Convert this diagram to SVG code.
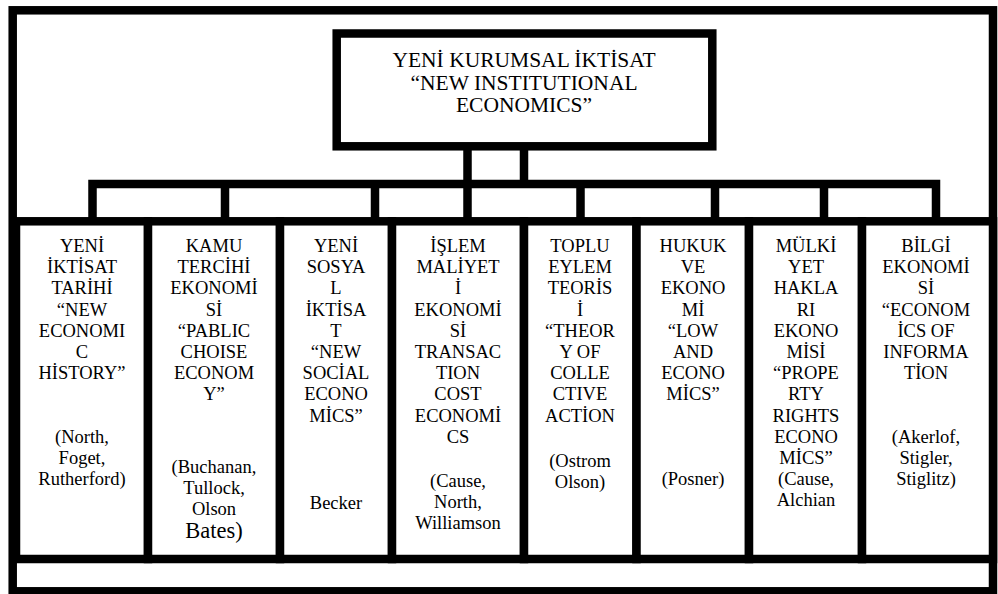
<svg xmlns="http://www.w3.org/2000/svg" width="998" height="594" viewBox="0 0 998 594">
<style>
.box{fill:#fff;stroke:#000;stroke-width:8.5}
.conn{fill:none;stroke:#000;stroke-width:8.5;stroke-linecap:square}
text{font-family:"Liberation Serif","Times New Roman",serif;fill:#000;text-anchor:middle}
.t{font-size:21.5px}
.c{font-size:18.5px}
.big{font-size:22.5px}
</style>
<rect width="998" height="594" fill="#fff"/>
<g id="frame">
<rect class="box" x="12.7" y="10.3" width="980.3" height="581"/>
</g>
<g id="root">
<rect class="box" x="336.7" y="33.5" width="375.6" height="112.8"/>
<text class="t"><tspan x="524" y="67">YENİ KURUMSAL İKTİSAT</tspan><tspan x="524" y="89.5">“NEW INSTITUTIONAL</tspan><tspan x="524" y="112">ECONOMICS”</tspan></text>
</g>
<g id="connectors">
<path class="conn" d="M467.5 150V217M524 150V184M92.5 184H936M92.5 184V217M225 184V217M375 184V217M580.5 184V217M715 184V217M824 184V217M936 184V217"/>
</g>
<g id="col1">
<rect class="box" x="16" y="221.3" width="132" height="337.7"/>
<text class="c"><tspan x="82" y="252">YENİ</tspan><tspan x="82" y="273.2">İKTİSAT</tspan><tspan x="82" y="294.4">TARİHİ</tspan><tspan x="82" y="315.6">“NEW</tspan><tspan x="82" y="336.8">ECONOMI</tspan><tspan x="82" y="358">C</tspan><tspan x="82" y="379.2">HİSTORY”</tspan><tspan x="82" y="443">(North,</tspan><tspan x="82" y="464.2">Foget,</tspan><tspan x="82" y="485.4">Rutherford)</tspan></text>
</g>
<g id="col2">
<rect class="box" x="148" y="221.3" width="132" height="337.7"/>
<text class="c"><tspan x="214" y="252">KAMU</tspan><tspan x="214" y="273.2">TERCİHİ</tspan><tspan x="214" y="294.4">EKONOMİ</tspan><tspan x="214" y="315.6">Sİ</tspan><tspan x="214" y="336.8">“PABLIC</tspan><tspan x="214" y="358">CHOISE</tspan><tspan x="214" y="379.2">ECONOM</tspan><tspan x="214" y="400.4">Y”</tspan><tspan x="214" y="473">(Buchanan,</tspan><tspan x="214" y="494">Tullock,</tspan><tspan x="214" y="515">Olson</tspan></text>
<text class="big" x="214" y="538">Bates)</text>
</g>
<g id="col3">
<rect class="box" x="280" y="221.3" width="112" height="337.7"/>
<text class="c"><tspan x="336" y="252">YENİ</tspan><tspan x="336" y="273.2">SOSYA</tspan><tspan x="336" y="294.4">L</tspan><tspan x="336" y="315.6">İKTİSA</tspan><tspan x="336" y="336.8">T</tspan><tspan x="336" y="358">“NEW</tspan><tspan x="336" y="379.2">SOCİAL</tspan><tspan x="336" y="400.4">ECONO</tspan><tspan x="336" y="421.6">MİCS”</tspan><tspan x="336" y="509">Becker</tspan></text>
</g>
<g id="col4">
<rect class="box" x="392" y="221.3" width="132" height="337.7"/>
<text class="c"><tspan x="458" y="252">İŞLEM</tspan><tspan x="458" y="273.2">MALİYET</tspan><tspan x="458" y="294.4">İ</tspan><tspan x="458" y="315.6">EKONOMİ</tspan><tspan x="458" y="336.8">Sİ</tspan><tspan x="458" y="358">TRANSAC</tspan><tspan x="458" y="379.2">TION</tspan><tspan x="458" y="400.4">COST</tspan><tspan x="458" y="421.6">ECONOMİ</tspan><tspan x="458" y="442.8">CS</tspan><tspan x="458" y="487">(Cause,</tspan><tspan x="458" y="508">North,</tspan><tspan x="458" y="529">Williamson</tspan></text>
</g>
<g id="col5">
<rect class="box" x="524" y="221.3" width="112.5" height="337.7"/>
<text class="c"><tspan x="580" y="252">TOPLU</tspan><tspan x="580" y="273.2">EYLEM</tspan><tspan x="580" y="294.4">TEORİS</tspan><tspan x="580" y="315.6">İ</tspan><tspan x="580" y="336.8">“THEOR</tspan><tspan x="580" y="358">Y OF</tspan><tspan x="580" y="379.2">COLLE</tspan><tspan x="580" y="400.4">CTIVE</tspan><tspan x="580" y="421.6">ACTİON</tspan><tspan x="580" y="466.5">(Ostrom</tspan><tspan x="580" y="488">Olson)</tspan></text>
</g>
<g id="col6">
<rect class="box" x="636.5" y="221.3" width="112.5" height="337.7"/>
<text class="c"><tspan x="693" y="252">HUKUK</tspan><tspan x="693" y="273.2">VE</tspan><tspan x="693" y="294.4">EKONO</tspan><tspan x="693" y="315.6">Mİ</tspan><tspan x="693" y="336.8">“LOW</tspan><tspan x="693" y="358">AND</tspan><tspan x="693" y="379.2">ECONO</tspan><tspan x="693" y="400.4">MİCS”</tspan><tspan x="693" y="485">(Posner)</tspan></text>
</g>
<g id="col7">
<rect class="box" x="749" y="221.3" width="113" height="337.7"/>
<text class="c"><tspan x="806" y="252">MÜLKİ</tspan><tspan x="806" y="273.2">YET</tspan><tspan x="806" y="294.4">HAKLA</tspan><tspan x="806" y="315.6">RI</tspan><tspan x="806" y="336.8">EKONO</tspan><tspan x="806" y="358">MİSİ</tspan><tspan x="806" y="379.2">“PROPE</tspan><tspan x="806" y="400.4">RTY</tspan><tspan x="806" y="421.6">RIGHTS</tspan><tspan x="806" y="442.8">ECONO</tspan><tspan x="806" y="464">MİCS”</tspan><tspan x="806" y="485.2">(Cause,</tspan><tspan x="806" y="506.4">Alchian</tspan></text>
</g>
<g id="col8">
<rect class="box" x="862" y="221.3" width="131" height="337.7"/>
<text class="c"><tspan x="926" y="252">BİLGİ</tspan><tspan x="926" y="273.2">EKONOMİ</tspan><tspan x="926" y="294.4">Sİ</tspan><tspan x="926" y="315.6">“ECONOM</tspan><tspan x="926" y="336.8">İCS OF</tspan><tspan x="926" y="358">INFORMA</tspan><tspan x="926" y="379.2">TİON</tspan><tspan x="926" y="442.8">(Akerlof,</tspan><tspan x="926" y="464">Stigler,</tspan><tspan x="926" y="485.2">Stiglitz)</tspan></text>
</g>
</svg>
